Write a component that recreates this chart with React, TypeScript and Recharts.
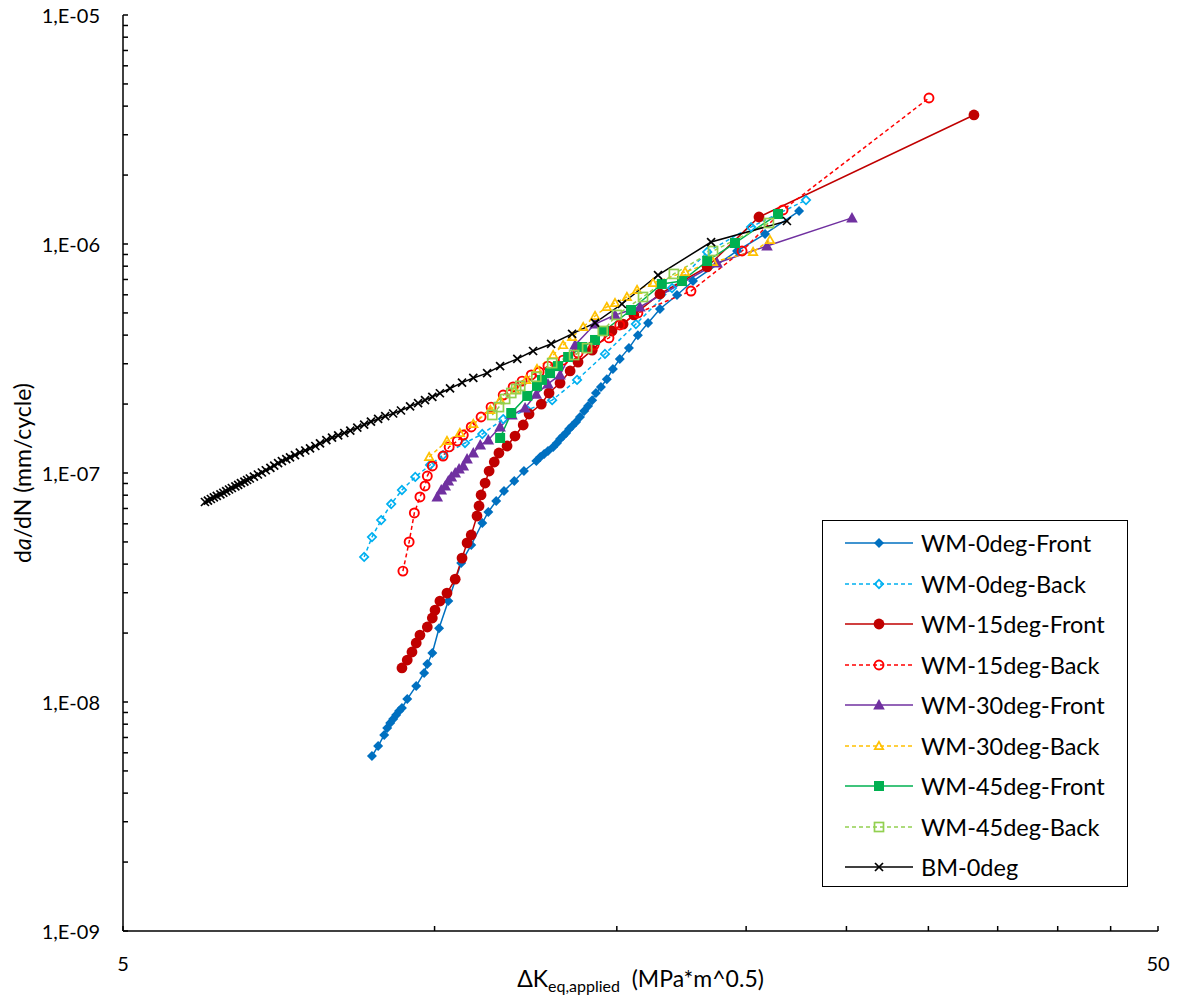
import React from 'react';
import { LineChart, Line, XAxis, YAxis, Legend } from 'recharts';

const FONT = 'Lato, "Open Sans", "DejaVu Sans", sans-serif';

// ---------- data (ΔK in MPa*m^0.5, da/dN in mm/cycle) ----------
const wm0FrontK = [8.70, 8.82, 8.94, 9.00, 9.06, 9.12, 9.18, 9.24, 9.30, 9.41, 9.60, 9.77, 9.84, 9.95, 10.10, 10.31, 10.61, 10.85, 11.12, 11.27, 11.47, 11.67, 11.94, 12.20, 12.54, 12.65, 12.76, 12.87, 13.02, 13.13, 13.22, 13.31, 13.40, 13.49, 13.58, 13.70, 13.82, 13.95, 14.07, 14.20, 14.32, 14.48, 14.67, 14.87, 15.10, 15.41, 15.72, 16.08, 16.51, 17.15, 17.77, 19.60, 20.86, 22.50];
const wm0FrontRate = [5.81e-9, 6.42e-9, 7.18e-9, 7.70e-9, 8.10e-9, 8.43e-9, 8.78e-9, 9.13e-9, 9.42e-9, 1.03e-8, 1.175e-8, 1.339e-8, 1.465e-8, 1.637e-8, 2.10e-8, 2.76e-8, 4.05e-8, 4.85e-8, 6.05e-8, 6.76e-8, 7.55e-8, 8.35e-8, 9.23e-8, 1.02e-7, 1.128e-7, 1.175e-7, 1.21e-7, 1.248e-7, 1.30e-7, 1.352e-7, 1.408e-7, 1.45e-7, 1.495e-7, 1.557e-7, 1.605e-7, 1.67e-7, 1.756e-7, 1.865e-7, 1.96e-7, 2.08e-7, 2.235e-7, 2.375e-7, 2.57e-7, 2.845e-7, 3.15e-7, 3.51e-7, 4.00e-7, 4.52e-7, 5.20e-7, 5.99e-7, 6.89e-7, 9.32e-7, 1.106e-6, 1.393e-6];

const wm0BackK = [8.55, 8.70, 8.88, 9.08, 9.30, 9.58, 9.90, 10.19, 10.70, 11.12, 11.65, 12.29, 12.99, 13.73, 14.61, 15.65, 16.96, 18.34, 20.22, 22.85];
const wm0BackRate = [4.30e-8, 5.25e-8, 6.23e-8, 7.32e-8, 8.43e-8, 9.61e-8, 1.084e-7, 1.198e-7, 1.352e-7, 1.48e-7, 1.72e-7, 1.885e-7, 2.08e-7, 2.55e-7, 3.31e-7, 4.47e-7, 6.42e-7, 9.23e-7, 1.186e-6, 1.556e-6];

const wm15FrontK = [9.30, 9.41, 9.51, 9.60, 9.68, 9.84, 9.95, 10.01, 10.12, 10.28, 10.47, 10.63, 10.75, 10.85, 10.99, 11.04, 11.09, 11.19, 11.29, 11.42, 11.54, 11.75, 11.96, 12.18, 12.34, 12.68, 12.90, 13.22, 13.52, 13.76, 14.20, 14.84, 15.21, 15.58, 16.51, 18.34, 20.58, 33.20];
const wm15FrontRate = [1.408e-8, 1.525e-8, 1.653e-8, 1.81e-8, 1.96e-8, 2.126e-8, 2.327e-8, 2.52e-8, 2.76e-8, 2.99e-8, 3.44e-8, 4.25e-8, 4.95e-8, 5.36e-8, 6.49e-8, 7.18e-8, 8.02e-8, 9.04e-8, 1.02e-7, 1.117e-7, 1.223e-7, 1.312e-7, 1.45e-7, 1.62e-7, 1.81e-7, 2.00e-7, 2.235e-7, 2.47e-7, 2.79e-7, 3.05e-7, 3.44e-7, 4.17e-7, 4.47e-7, 4.90e-7, 6.05e-7, 7.94e-7, 1.312e-6, 3.66e-6];

const wm15BackK = [9.32, 9.45, 9.56, 9.68, 9.79, 9.84, 9.95, 10.19, 10.33, 10.52, 10.66, 10.85, 11.09, 11.34, 11.65, 11.91, 12.15, 12.40, 12.62, 12.87, 13.31, 13.76, 14.26, 14.74, 15.10, 15.72, 17.69, 19.82, 21.71, 30.04];
const wm15BackRate = [3.73e-8, 5.00e-8, 6.69e-8, 7.86e-8, 8.78e-8, 9.70e-8, 1.073e-7, 1.186e-7, 1.30e-7, 1.38e-7, 1.465e-7, 1.589e-7, 1.756e-7, 1.94e-7, 2.19e-7, 2.375e-7, 2.52e-7, 2.68e-7, 2.76e-7, 2.93e-7, 3.11e-7, 3.34e-7, 3.62e-7, 3.89e-7, 4.43e-7, 5.00e-7, 6.23e-7, 9.32e-7, 1.408e-6, 4.34e-6];

const wm30FrontK = [10.06, 10.15, 10.24, 10.31, 10.38, 10.47, 10.56, 10.66, 10.75, 10.90, 11.07, 11.27, 11.57, 11.88, 12.23, 12.54, 12.87, 13.22, 13.67, 14.29, 14.94, 15.79, 18.75, 20.95, 25.31];
const wm30FrontRate = [7.86e-8, 8.43e-8, 8.78e-8, 9.23e-8, 9.61e-8, 1.00e-7, 1.041e-7, 1.073e-7, 1.151e-7, 1.223e-7, 1.325e-7, 1.393e-7, 1.589e-7, 1.792e-7, 1.922e-7, 2.21e-7, 2.45e-7, 2.68e-7, 3.62e-7, 4.47e-7, 4.90e-7, 5.31e-7, 8.26e-7, 9.80e-7, 1.30e-6];

const wm30BackK = [9.88, 10.28, 10.58, 10.90, 11.32, 11.57, 11.96, 12.26, 12.56, 13.02, 13.31, 13.58, 13.92, 14.29, 14.67, 14.94, 15.34, 15.69, 16.26, 17.46, 18.58, 20.31, 21.09];
const wm30BackRate = [1.175e-7, 1.38e-7, 1.495e-7, 1.637e-7, 1.885e-7, 2.08e-7, 2.30e-7, 2.55e-7, 2.845e-7, 3.275e-7, 3.62e-7, 3.925e-7, 4.34e-7, 4.85e-7, 5.31e-7, 5.525e-7, 5.87e-7, 6.30e-7, 6.76e-7, 7.55e-7, 8.35e-7, 9.23e-7, 1.041e-6];

const wm45FrontK = [11.57, 11.86, 12.29, 12.56, 12.70, 12.93, 13.16, 13.46, 13.89, 14.29, 14.58, 15.48, 16.58, 17.34, 18.34, 19.51, 21.47];
const wm45FrontRate = [1.422e-7, 1.828e-7, 2.17e-7, 2.40e-7, 2.55e-7, 2.73e-7, 2.93e-7, 3.21e-7, 3.55e-7, 3.81e-7, 4.17e-7, 5.15e-7, 6.69e-7, 6.89e-7, 8.43e-7, 1.01e-6, 1.352e-6];

const wm45BackK = [11.37, 11.54, 11.70, 11.86, 11.99, 12.10, 12.54, 12.99, 13.64, 14.04, 14.54, 15.00, 15.90, 17.03, 18.58, 21.04];
const wm45BackRate = [1.792e-7, 1.94e-7, 2.105e-7, 2.235e-7, 2.327e-7, 2.40e-7, 2.63e-7, 3.02e-7, 3.275e-7, 3.51e-7, 4.17e-7, 4.90e-7, 5.87e-7, 7.40e-7, 9.32e-7, 1.235e-6];

const bm0K = [6.00, 6.04, 6.08, 6.12, 6.16, 6.21, 6.25, 6.29, 6.33, 6.37, 6.42, 6.46, 6.50, 6.55, 6.59, 6.63, 6.69, 6.75, 6.81, 6.87, 6.94, 7.00, 7.06, 7.12, 7.19, 7.25, 7.33, 7.41, 7.50, 7.58, 7.67, 7.75, 7.86, 7.96, 8.07, 8.18, 8.29, 8.42, 8.55, 8.68, 8.82, 8.96, 9.12, 9.28, 9.47, 9.64, 9.79, 9.95, 10.12, 10.35, 10.63, 10.90, 11.24, 11.57, 12.02, 12.45, 12.96, 13.58, 14.29, 15.17, 16.44, 18.50, 21.90];
const bm0Rate = [7.47e-8, 7.58e-8, 7.70e-8, 7.82e-8, 7.94e-8, 8.07e-8, 8.20e-8, 8.34e-8, 8.47e-8, 8.60e-8, 8.74e-8, 8.88e-8, 9.03e-8, 9.17e-8, 9.32e-8, 9.46e-8, 9.65e-8, 9.85e-8, 1.005e-7, 1.028e-7, 1.053e-7, 1.078e-7, 1.104e-7, 1.127e-7, 1.149e-7, 1.171e-7, 1.198e-7, 1.227e-7, 1.254e-7, 1.282e-7, 1.312e-7, 1.348e-7, 1.392e-7, 1.426e-7, 1.460e-7, 1.495e-7, 1.530e-7, 1.579e-7, 1.627e-7, 1.675e-7, 1.724e-7, 1.770e-7, 1.819e-7, 1.875e-7, 1.955e-7, 2.02e-7, 2.08e-7, 2.15e-7, 2.23e-7, 2.34e-7, 2.48e-7, 2.60e-7, 2.73e-7, 2.93e-7, 3.15e-7, 3.41e-7, 3.66e-7, 4.05e-7, 4.52e-7, 5.47e-7, 7.32e-7, 1.02e-6, 1.26e-6];

// ---------- axes ----------
const xTicks = [5, 10, 15, 20, 25, 30, 35, 40, 45, 50];
const xTickLabels = ['5', '', '', '', '', '', '', '', '', '50'];
const yTicks = [
  1e-9, 2e-9, 3e-9, 4e-9, 5e-9, 6e-9, 7e-9, 8e-9, 9e-9,
  1e-8, 2e-8, 3e-8, 4e-8, 5e-8, 6e-8, 7e-8, 8e-8, 9e-8,
  1e-7, 2e-7, 3e-7, 4e-7, 5e-7, 6e-7, 7e-7, 8e-7, 9e-7,
  1e-6, 2e-6, 3e-6, 4e-6, 5e-6, 6e-6, 7e-6, 8e-6, 9e-6,
  1e-5,
];
const yDecadeLabels = ['1,E-09', '1,E-08', '1,E-07', '1,E-06', '1,E-05'];
// label for each entry of yTicks ('' = minor tick, no label)
const yTickLabels = yTicks.map((_, i) => (i % 9 === 0 ? yDecadeLabels[i / 9] : ''));

type MarkerType = 'diamondFill' | 'diamondOpen' | 'circleFill' | 'circleOpen' | 'triFill' | 'triOpen' | 'squareFill' | 'squareOpen' | 'cross';

const toPoints = (ks: number[], rates: number[]) => ks.map((k, i) => ({ x: k, y: rates[i] }));

const series: { name: string; data: { x: number; y: number }[]; color: string; dashed: boolean; marker: MarkerType }[] = [
  { name: 'WM-0deg-Front', data: toPoints(wm0FrontK, wm0FrontRate), color: '#0070C0', dashed: false, marker: 'diamondFill' },
  { name: 'WM-0deg-Back', data: toPoints(wm0BackK, wm0BackRate), color: '#00B0F0', dashed: true, marker: 'diamondOpen' },
  { name: 'WM-15deg-Front', data: toPoints(wm15FrontK, wm15FrontRate), color: '#C00000', dashed: false, marker: 'circleFill' },
  { name: 'WM-15deg-Back', data: toPoints(wm15BackK, wm15BackRate), color: '#FF0000', dashed: true, marker: 'circleOpen' },
  { name: 'WM-30deg-Front', data: toPoints(wm30FrontK, wm30FrontRate), color: '#7030A0', dashed: false, marker: 'triFill' },
  { name: 'WM-30deg-Back', data: toPoints(wm30BackK, wm30BackRate), color: '#FFC000', dashed: true, marker: 'triOpen' },
  { name: 'WM-45deg-Front', data: toPoints(wm45FrontK, wm45FrontRate), color: '#00B050', dashed: false, marker: 'squareFill' },
  { name: 'WM-45deg-Back', data: toPoints(wm45BackK, wm45BackRate), color: '#92D050', dashed: true, marker: 'squareOpen' },
  { name: 'BM-0deg', data: toPoints(bm0K, bm0Rate), color: '#000000', dashed: false, marker: 'cross' },
];

const X_TICK_MARGIN = 6;
const Y_TICK_MARGIN = 6;

function MarkerShape({ type, cx, cy, color }: { type: MarkerType; cx: number; cy: number; color: string }) {
  if (cx == null || cy == null || isNaN(cx) || isNaN(cy)) return null;
  switch (type) {
    case 'diamondFill':
      return <polygon points={`${cx},${cy - 5} ${cx + 5},${cy} ${cx},${cy + 5} ${cx - 5},${cy}`} fill={color} />;
    case 'diamondOpen':
      return <polygon points={`${cx},${cy - 4.2} ${cx + 4.2},${cy} ${cx},${cy + 4.2} ${cx - 4.2},${cy}`} fill="none" stroke={color} strokeWidth={1.7} />;
    case 'circleFill':
      return <circle cx={cx} cy={cy} r={5.4} fill={color} />;
    case 'circleOpen':
      return <circle cx={cx} cy={cy} r={4.5} fill="none" stroke={color} strokeWidth={1.9} />;
    case 'triFill':
      return <polygon points={`${cx},${cy - 6} ${cx + 5.8},${cy + 4.5} ${cx - 5.8},${cy + 4.5}`} fill={color} />;
    case 'triOpen':
      return <polygon points={`${cx},${cy - 4.2} ${cx + 4.2},${cy + 3.2} ${cx - 4.2},${cy + 3.2}`} fill="none" stroke={color} strokeWidth={1.7} />;
    case 'squareFill':
      return <rect x={cx - 5} y={cy - 5} width={10} height={10} fill={color} />;
    case 'squareOpen':
      return <rect x={cx - 4.5} y={cy - 4.5} width={9} height={9} fill="none" stroke={color} strokeWidth={1.7} />;
    case 'cross':
      return (
        <g stroke={color} strokeWidth={1.7}>
          <line x1={cx - 4} y1={cy - 4} x2={cx + 4} y2={cy + 4} />
          <line x1={cx - 4} y1={cy + 4} x2={cx + 4} y2={cy - 4} />
        </g>
      );
    default:
      return null;
  }
}

function XTick(props: any) {
  const { x, y, index } = props;
  const axisY = y - X_TICK_MARGIN;
  const label = xTickLabels[index] ?? '';
  return (
    <g>
      <line x1={x} x2={x} y1={axisY} y2={axisY - 5} stroke="#000" strokeWidth={1.5} />
      {label !== '' && (
        <text x={x} y={axisY + 32} textAnchor="middle" dominantBaseline="central" fontSize={20} fontFamily={FONT} fill="#000">
          {label}
        </text>
      )}
    </g>
  );
}

function YTick(props: any) {
  const { x, y, index } = props;
  const axisX = x + Y_TICK_MARGIN;
  const label = yTickLabels[index] ?? '';
  return (
    <g>
      <line x1={axisX} x2={axisX + 5} y1={y} y2={y} stroke="#000" strokeWidth={1.5} />
      {label !== '' && (
        <text x={axisX - 23} y={y} textAnchor="end" dominantBaseline="central" fontSize={20} fontFamily={FONT} fill="#000">
          {label}
        </text>
      )}
    </g>
  );
}

function XTitle(props: any) {
  const vb = props.viewBox || { x: 0, y: 0, width: 0, height: 0 };
  const cx = vb.x + vb.width / 2;
  return (
    <text x={cx} y={vb.y + 56} textAnchor="middle" fontSize={23} fontFamily={FONT} fill="#000">
      ΔK
      <tspan dy={5} fontSize={16}>eq,applied</tspan>
      <tspan dy={-5}>{'\u00A0\u00A0(MPa*m^0.5)'}</tspan>
    </text>
  );
}

function YTitle(props: any) {
  const vb = props.viewBox || { x: 0, y: 0, width: 0, height: 0 };
  const cx = vb.x + 22;
  const cy = vb.y + vb.height / 2;
  return (
    <text x={cx} y={cy} transform={`rotate(-90 ${cx} ${cy})`} textAnchor="middle" dominantBaseline="central" fontSize={23} fontFamily={FONT} fill="#000">
      d<tspan fontStyle="italic">a</tspan>/dN (mm/cycle)
    </text>
  );
}

function LegendBox() {
  return (
    <div style={{ width: 306, height: 367, boxSizing: 'border-box', border: '1.5px solid #000', background: '#fff', paddingTop: 2, fontFamily: FONT }}>
      {series.map((s) => (
        <div key={s.name} style={{ height: 40.5, display: 'flex', alignItems: 'center' }}>
          <svg width={96} height={20} style={{ flex: '0 0 auto' }}>
            <line x1={22} x2={90} y1={10} y2={10} stroke={s.color} strokeWidth={1.5} strokeDasharray={s.dashed ? '4 3' : undefined} />
            <MarkerShape type={s.marker} cx={56} cy={10} color={s.color} />
          </svg>
          <span style={{ fontSize: 23.5, color: '#000', marginLeft: 2, whiteSpace: 'nowrap' }}>{s.name}</span>
        </div>
      ))}
    </div>
  );
}

export default function App() {
  return (
    <div style={{ width: 1170, height: 1000, margin: '-8px 0 0 -8px' }}>
      <LineChart width={1170} height={1000} margin={{ top: 15, right: 12, bottom: 0, left: 0 }}>
        <XAxis
          type="number"
          dataKey="x"
          scale="log"
          domain={[5, 50]}
          allowDataOverflow
          ticks={xTicks}
          interval={0}
          tickSize={0}
          tickMargin={X_TICK_MARGIN}
          tickLine={false}
          tick={(p: any) => <XTick {...p} />}
          axisLine={{ stroke: '#000', strokeWidth: 1.5 }}
          height={69}
          label={<XTitle />}
        />
        <XAxis
          xAxisId="frameTop"
          orientation="top"
          type="number"
          dataKey="x"
          scale="log"
          domain={[5, 50]}
          allowDataOverflow
          tick={false}
          tickLine={false}
          axisLine={{ stroke: '#000', strokeWidth: 1.5 }}
          height={0}
        />
        <YAxis
          type="number"
          dataKey="y"
          scale="log"
          domain={[1e-9, 1e-5]}
          allowDataOverflow
          ticks={yTicks}
          interval={0}
          tickSize={0}
          tickMargin={Y_TICK_MARGIN}
          tickLine={false}
          tick={(p: any) => <YTick {...p} />}
          axisLine={{ stroke: '#000', strokeWidth: 1.5 }}
          width={123}
          label={<YTitle />}
        />
        <YAxis
          yAxisId="frameRight"
          orientation="right"
          type="number"
          dataKey="y"
          scale="log"
          domain={[1e-9, 1e-5]}
          allowDataOverflow
          tick={false}
          tickLine={false}
          axisLine={{ stroke: '#000', strokeWidth: 1.5 }}
          width={0}
        />
        {series.map((s) => (
          <Line
            key={s.name}
            name={s.name}
            data={s.data}
            dataKey="y"
            type="linear"
            stroke={s.color}
            strokeWidth={1.5}
            strokeDasharray={s.dashed ? '4 3' : undefined}
            isAnimationActive={false}
            dot={(p: any) => <MarkerShape key={`${s.name}-${p.index}`} type={s.marker} cx={p.cx} cy={p.cy} color={s.color} />}
            activeDot={false}
          />
        ))}
        <Legend
          layout="vertical"
          align="center"
          verticalAlign="middle"
          content={() => <LegendBox />}
          wrapperStyle={{ left: 822, top: 520, width: 306, height: 367 }}
        />
      </LineChart>
    </div>
  );
}
